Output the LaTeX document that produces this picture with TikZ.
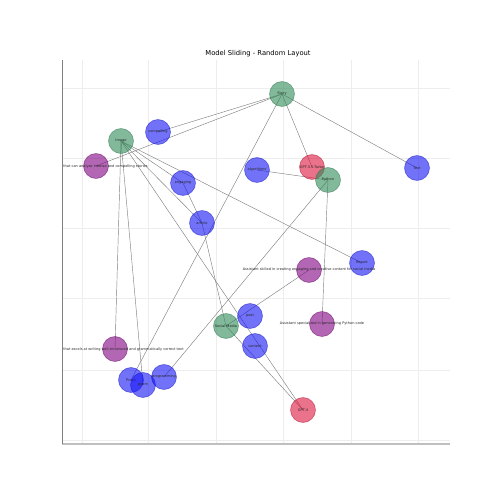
\documentclass[tikz,border=0pt]{standalone}
\usepackage{fontspec}
\setmainfont{DejaVu Sans}
\usetikzlibrary{backgrounds}
\definecolor{agentgreen}{RGB}{46,139,87}
\definecolor{agentblue}{RGB}{20,20,245}
\definecolor{agentred}{RGB}{220,20,60}
\definecolor{agentpurple}{RGB}{128,0,128}
\tikzset{
  agent/.style={circle,minimum size=0.5cm,inner sep=0,fill opacity=0.6,draw opacity=0.6,line width=0.3pt},
  grnnode/.style={agent,fill=agentgreen,draw=agentgreen!80!black},
  bluenode/.style={agent,fill=agentblue,draw=agentblue!80!black},
  rednode/.style={agent,fill=agentred,draw=agentred!80!black},
  purpnode/.style={agent,fill=agentpurple,draw=agentpurple!80!black},
  tag/.style={font=\fontsize{2.0}{2.2}\selectfont,text=black!85,inner sep=0},
  link/.style={draw=black!50,line width=0.25pt},
  gridline/.style={draw=black!7,line width=0.3pt}
}
\newcommand{\agent}[5]{% x, y, name, style, label
  \node[#4] (#3) at (#1,#2) {};
  \node[tag] (#3-t) at (#3.center) {#5};}

\begin{document}
\begin{tikzpicture}[x=0.02cm,y=-0.02cm]
  \useasboundingbox (0,0) rectangle (500,500);
  \node[font=\fontsize{3.85}{4.2}\selectfont] (title) at (258,54) {Model Sliding - Random Layout};
  % ---- nodes ----
  \agent{282}{94}{story}{grnnode}{Story}
  \agent{121}{141}{image}{grnnode}{Image}
  \agent{158}{132}{compelling}{bluenode}{compelling}
  \node[purpnode] (analyze) at (96,166) {};
  \node[tag,anchor=west] (analyze-t) at (63,167) {that can analyze intense and compelling stories};
  \agent{257}{170}{algorithms}{bluenode}{algorithms}
  \agent{312}{167}{turbo}{rednode}{GPT-3.5-Turbo}
  \agent{328}{180}{python}{grnnode}{Python}
  \agent{417}{168}{text}{bluenode}{Text}
  \agent{183}{183}{engaging}{bluenode}{engaging}
  \agent{202}{223}{article}{bluenode}{article}
  \agent{362}{263}{report}{bluenode}{Report}
  \agent{309}{270}{creative}{purpnode}{Assistant skilled in creating engaging and creative content for social media}
  \agent{250}{316}{poet}{bluenode}{poet}
  \agent{226}{326}{socialmedia}{grnnode}{Social Media}
  \agent{255}{346}{content}{bluenode}{content}
  \agent{322}{324}{pycode}{purpnode}{Assistant specialized in generating Python code}
  \node[purpnode] (excels) at (115,349) {};
  \node[tag,anchor=west] (excels-t) at (63,350) {that excels at writing well-structured and grammatically correct text};
  \agent{131}{380}{prose}{bluenode}{Prose}
  \agent{143}{385}{poem}{bluenode}{poem}
  \agent{164}{377}{programming}{bluenode}{programming}
  \agent{303}{410}{gptfour}{rednode}{GPT-4}
  % ---- axes, grid and links behind the nodes ----
  \begin{scope}[on background layer]
    \foreach \gx in {82,148,216,283,351,418}
      \draw[gridline] (\gx,60) -- (\gx,444);
    \foreach \gy in {88,158,228,298,370,440}
      \draw[gridline] (62,\gy) -- (450,\gy);
    \draw[black!25,line width=1.1pt] (62,444) -- (450,444);
    \draw[black!50,line width=0.5pt] (62,60) -- (62,444);
    \draw[link] (story.center) -- (compelling.center);
    \draw[link] (story.center) -- (analyze.center);
    \draw[link] (story.center) -- (prose.center);
    \draw[link] (story.center) -- (turbo.center);
    \draw[link] (story.center) -- (text.center);
    \draw[link] (image.center) -- (poem.center);
    \draw[link] (image.center) -- (excels.center);
    \draw[link] (image.center) -- (engaging.center);
    \draw[link] (image.center) -- (article.center);
    \draw[link] (image.center) -- (report.center);
    \draw[link] (image.center) -- (gptfour.center);
    \draw[link] (engaging.center) -- (article.center);
    \draw[link] (article.center) -- (socialmedia.center);
    \draw[link] (algorithms.center) -- (python.center);
    \draw[link] (python.center) -- (programming.center);
    \draw[link] (python.center) -- (pycode.center);
    \draw[link] (socialmedia.center) -- (creative.center);
    \draw[link] (socialmedia.center) -- (gptfour.center);
  \end{scope}
\end{tikzpicture}
\end{document}
